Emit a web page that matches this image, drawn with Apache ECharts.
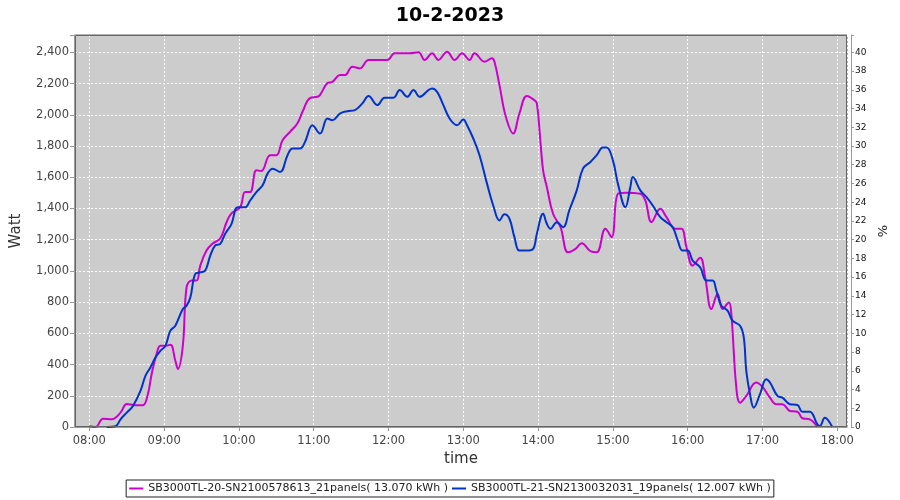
<!DOCTYPE html>
<html>
<head>
<meta charset="utf-8">
<script src="https://cdn.jsdelivr.net/npm/echarts@6/dist/echarts.min.js"></script>
<style>html,body{margin:0;padding:0;background:#fff}#c{width:900px;height:500px}</style>
</head>
<body>
<div id="c"></div>
<script>
const chartTitle = '10-2-2023';
const seriesNames = [
  'SB3000TL-20-SN2100578613_21panels( 13.070 kWh )',
  'SB3000TL-21-SN2130032031_19panels( 12.007 kWh )'
];
const magentaTimes = ['08:00','08:05','08:11','08:18','08:25','08:30','08:37','08:43','08:47','08:50','08:54','08:57','09:01','09:05','09:09','09:11','09:15','09:18','09:22','09:26','09:29','09:34','09:39','09:45','09:50','09:54','10:01','10:05','10:09','10:14','10:18','10:25','10:30','10:35','10:41','10:47','10:51','10:57','11:03','11:05','11:11','11:15','11:21','11:25','11:31','11:37','11:44','11:53','11:59','12:05','12:17','12:24','12:29','12:35','12:40','12:47','12:53','12:59','13:05','13:09','13:17','13:23','13:25','13:29','13:34','13:40','13:45','13:51','13:57','13:59','14:02','14:04','14:07','14:12','14:18','14:24','14:30','14:35','14:42','14:47','14:54','14:59','15:04','15:10','15:22','15:26','15:31','15:38','15:43','15:50','15:55','15:59','16:04','16:10','16:14','16:19','16:24','16:28','16:33','16:35','16:39','16:42','16:47','16:55','17:00','17:06','17:11','17:16','17:22','17:28','17:32','17:38','17:44'];
const magentaWatts = [5,0,53,50,92,148,140,140,212,340,469,520,520,527,424,372,520,895,938,938,1034,1130,1175,1207,1310,1368,1408,1505,1505,1644,1640,1741,1741,1837,1890,1946,2019,2107,2115,2126,2203,2211,2254,2254,2308,2297,2351,2351,2351,2394,2394,2400,2351,2394,2351,2404,2351,2394,2351,2394,2340,2362,2340,2190,1990,1880,2008,2120,2094,2073,1816,1644,1537,1366,1280,1119,1141,1177,1126,1119,1270,1216,1494,1501,1494,1451,1312,1398,1344,1270,1270,1152,1034,1084,959,756,852,756,798,724,253,156,199,285,257,188,146,146,103,98,56,49,0];
const blueTimes = ['08:14','08:21','08:25','08:30','08:35','08:41','08:45','08:49','08:53','08:57','09:01','09:05','09:09','09:15','09:18','09:21','09:25','09:29','09:33','09:37','09:41','09:45','09:49','09:54','09:59','10:05','10:09','10:14','10:19','10:23','10:27','10:33','10:39','10:43','10:49','10:53','10:59','11:05','11:11','11:15','11:21','11:27','11:33','11:39','11:44','11:51','11:57','12:04','12:09','12:15','12:20','12:25','12:32','12:35','12:39','12:44','12:49','12:55','13:00','13:03','13:08','13:13','13:19','13:24','13:29','13:33','13:37','13:41','13:45','13:51','13:56','13:59','14:04','14:07','14:10','14:15','14:20','14:25','14:31','14:36','14:42','14:47','14:52','14:55','15:00','15:04','15:10','15:14','15:16','15:22','15:27','15:32','15:38','15:43','15:48','15:52','15:56','16:00','16:04','16:10','16:15','16:20','16:23','16:27','16:32','16:36','16:42','16:45','16:47','16:50','16:53','16:58','17:03','17:06','17:12','17:16','17:22','17:28','17:32','17:38','17:44','17:46','17:50','17:56'];
const blueWatts = [0,5,49,92,135,231,328,381,445,488,520,617,649,756,777,830,981,991,1002,1098,1163,1173,1238,1300,1408,1408,1451,1505,1548,1623,1655,1634,1741,1784,1784,1826,1933,1880,1976,1965,2008,2023,2030,2073,2120,2062,2109,2109,2158,2115,2158,2115,2158,2169,2147,2062,1976,1933,1970,1933,1848,1741,1559,1419,1323,1362,1334,1216,1130,1130,1141,1238,1366,1302,1270,1312,1280,1387,1516,1655,1698,1741,1790,1790,1708,1559,1408,1537,1601,1516,1473,1419,1344,1312,1280,1195,1130,1130,1066,1023,938,938,873,777,745,681,649,574,360,210,124,210,306,285,199,188,146,141,98,98,17,6,60,0];

function ts(hm){ const p = hm.split(':'); return new Date(2023,1,10,+p[0],+p[1],p[2]?+p[2]:0).getTime(); }
function pairs(t, v){ return t.map((x,i)=>[ts(x), v[i]]); }
function pad(n){ return (n<10?'0':'')+n; }

const F = 'DejaVu Sans';
const chart = echarts.init(document.getElementById('c'), null, {renderer:'canvas'});
const G = {left:75, right:53, top:35, bottom:73};
chart.setOption({
  animation:false,
  backgroundColor:'#ffffff',
  title:{text:chartTitle, left:'center', top:2, textStyle:{fontFamily:F, fontWeight:'bold', fontSize:19, color:'#000'}},
  grid:{left:G.left, right:G.right, top:G.top, bottom:G.bottom, show:true, backgroundColor:'#cccccc', borderColor:'#666666', borderWidth:1},
  legend:{
    bottom:3, left:'center', orient:'horizontal',
    borderColor:'#222', borderWidth:1, padding:[3,3,3,3], itemGap:4,
    itemWidth:14, itemHeight:2, icon:'rect',
    textStyle:{fontFamily:F, fontSize:11, color:'#222'},
    data:seriesNames
  },
  xAxis:{
    type:'time',
    min:ts('07:48:30'), max:ts('18:07:48'),
    minInterval:3600*1000, maxInterval:3600*1000,
    offset:3,
    name:'time', nameLocation:'middle', nameGap:22,
    nameTextStyle:{fontFamily:F, fontSize:15, color:'#333'},
    axisLine:{show:true, lineStyle:{color:'#999'}},
    axisTick:{show:true, length:4, lineStyle:{color:'#999'}},
    axisLabel:{fontFamily:F, fontSize:11.5, color:'#444', margin:5,
      formatter:function(v){ const d=new Date(v); return pad(d.getHours())+':'+pad(d.getMinutes()); }},
    splitLine:{show:true, lineStyle:{color:'#ffffff', type:[2,2], width:1}}
  },
  yAxis:[{
    type:'value', min:0, max:2511, interval:200, position:'left', offset:1,
    name:'Watt', nameLocation:'middle', nameGap:50, nameRotate:90,
    nameTextStyle:{fontFamily:F, fontSize:15, color:'#333'},
    axisLine:{show:true, lineStyle:{color:'#999'}},
    axisTick:{show:true, length:4, lineStyle:{color:'#999'}},
    axisLabel:{fontFamily:F, fontSize:11.5, color:'#444', margin:5,
      formatter:function(v){ return (v%200===0)? v.toLocaleString('en-US') : ''; }},
    splitLine:{show:true, lineStyle:{color:'#ffffff', type:[2,2], width:1}}
  },{
    type:'value', min:0, max:41.85, interval:2, position:'right', offset:4,
    name:'%', nameLocation:'middle', nameGap:26, nameRotate:90,
    nameTextStyle:{fontFamily:F, fontSize:13, color:'#222'},
    axisLine:{show:true, lineStyle:{color:'#999'}},
    axisTick:{show:true, length:3, lineStyle:{color:'#999'}},
    axisLabel:{fontFamily:F, fontSize:9, color:'#111', margin:4,
      formatter:function(v){ return (Math.abs(v%2)<1e-6)? String(Math.round(v)) : ''; }},
    splitLine:{show:false}
  }],
  series:[{
    name:seriesNames[0], type:'line', smooth:0.4, showSymbol:false, yAxisIndex:0,
    data:pairs(magentaTimes, magentaWatts),
    lineStyle:{color:'#cc00cc', width:2}, itemStyle:{color:'#cc00cc'}, z:3
  },{
    name:seriesNames[1], type:'line', smooth:0.4, showSymbol:false, yAxisIndex:0,
    data:pairs(blueTimes, blueWatts),
    lineStyle:{color:'#0033cc', width:2}, itemStyle:{color:'#0033cc'}, z:4
  }],
  graphic:[{
    type:'rect', z:100, silent:true,
    shape:{x:G.left+0.5, y:G.top+0.5, width:900-G.left-G.right-1, height:500-G.top-G.bottom-1},
    style:{fill:null, stroke:'#666666', lineWidth:1}
  }]
});
</script>
</body>
</html>
